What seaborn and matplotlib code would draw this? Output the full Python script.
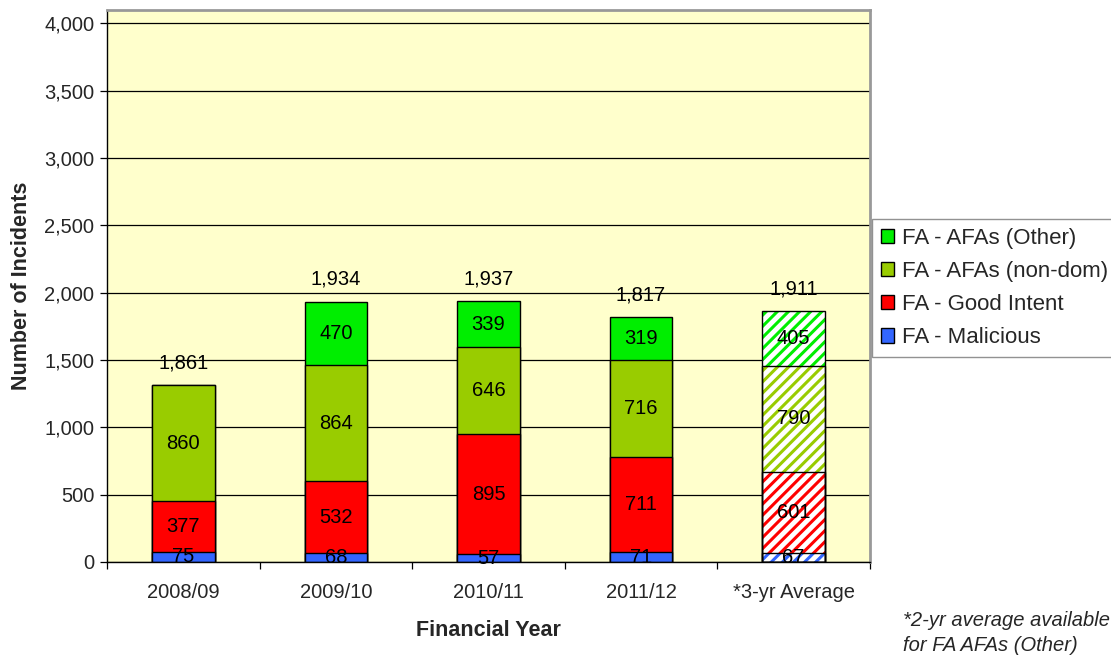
import numpy as np
import pandas as pd
import matplotlib
matplotlib.use("Agg")
import matplotlib.pyplot as plt
import seaborn as sns
from matplotlib.patches import Rectangle
from matplotlib.ticker import FuncFormatter, FixedLocator

years = ['2008/09', '2009/10', '2010/11', '2011/12', '*3-yr Average']
malicious = [75, 68, 57, 71, 67]
good_intent = [377, 532, 895, 711, 601]
afa_nondom = [860, 864, 646, 716, 790]
afa_other = [0, 470, 339, 319, 405]
totals = [1861, 1934, 1937, 1817, 1911]

series_names = ['FA - Malicious', 'FA - Good Intent', 'FA - AFAs (non-dom)', 'FA - AFAs (Other)']
series_colors = ['#3366FF', '#FF0000', '#99CC00', '#00EE00']

LABEL_FONT_SIZE = 14.5
TITLE_FONT_SIZE = 15.5

sns.set_style("white")
plt.rcParams['font.family'] = ['Liberation Sans', 'DejaVu Sans']
plt.rcParams['hatch.linewidth'] = 2.2

df = pd.DataFrame({'year': years, 'm': malicious, 'g': good_intent, 'n': afa_nondom, 'o': afa_other})
cols = ['m', 'g', 'n', 'o']
cum = df[cols].cumsum(axis=1)

fig = plt.figure(figsize=(11.11, 6.57), dpi=100)
ax = fig.add_axes([0.0963, 0.1446, 0.6867, 0.8402])
ax.set_facecolor('#FFFFCC')

ax.set_ylim(0, 4100)
ax.yaxis.set_major_locator(FixedLocator(np.arange(0, 4001, 500)))
ax.grid(axis='y', color='black', linewidth=0.9)
ax.set_axisbelow(True)

# stacked bars: draw cumulative totals from top series down
for i in range(len(cols) - 1, -1, -1):
    col = cols[i]
    n_before = len(ax.patches)
    sns.barplot(x=df['year'], y=cum[col], color=series_colors[i], width=0.41,
                edgecolor='black', linewidth=1.0, saturation=1, ax=ax)
    new_patches = ax.patches[n_before:]
    avg = new_patches[-1]
    avg.set_facecolor('white')
    avg.set_hatch('///')
    avg.set_edgecolor(series_colors[i])
    avg.set_linewidth(0)
    if df[col].iloc[-1] > 0:
        ax.add_patch(Rectangle((avg.get_x(), avg.get_y()), avg.get_width(), avg.get_height(),
                               fill=False, edgecolor='black', linewidth=1.0, zorder=avg.get_zorder() + 0.1))

# segment labels
for i, col in enumerate(cols):
    base = cum[col] - df[col]
    for j in range(len(years)):
        v = df[col].iloc[j]
        if v > 0:
            ax.text(j, base.iloc[j] + v / 2, f'{v:,}', ha='center', va='center',
                    fontsize=LABEL_FONT_SIZE, color='black', zorder=5)

# total labels above bars
tops = cum[cols[-1]]
for j in range(len(years)):
    ax.text(j, tops.iloc[j] + 165, f'{totals[j]:,}', ha='center', va='center',
            fontsize=LABEL_FONT_SIZE, color='black', zorder=5)

ax.set_xlim(-0.5, len(years) - 0.5)
ax.yaxis.set_major_formatter(FuncFormatter(lambda v, p: f'{int(v):,}'))
ax.tick_params(axis='y', which='major', length=5, width=0.9, color='black',
               labelsize=LABEL_FONT_SIZE, direction='out', left=True, pad=4)
ax.tick_params(axis='x', which='major', length=0, labelsize=LABEL_FONT_SIZE, pad=15)
ax.set_xticks(np.arange(-0.5, len(years)), minor=True)
ax.tick_params(axis='x', which='minor', length=5, width=0.9, color='black', direction='out', bottom=True)

ax.set_xlabel('Financial Year', fontsize=TITLE_FONT_SIZE, fontweight='bold', labelpad=13)
ax.set_ylabel('Number of Incidents', fontsize=TITLE_FONT_SIZE, fontweight='bold', labelpad=9)

for side in ['left', 'bottom']:
    ax.spines[side].set_color('black')
    ax.spines[side].set_linewidth(1.0)
for side in ['top', 'right']:
    ax.spines[side].set_color('#999999')
    ax.spines[side].set_linewidth(2.0)

# legend
handles = [Rectangle((0, 0), 1, 1, facecolor=series_colors[i], edgecolor='black', linewidth=1.0)
           for i in range(len(cols) - 1, -1, -1)]
labels = [series_names[i] for i in range(len(cols) - 1, -1, -1)]
leg = fig.legend(handles, labels, loc='upper left', bbox_to_anchor=(0.785, 0.667),
                 fontsize=16, frameon=True, fancybox=False,
                 handlelength=0.6, handleheight=0.6, handletextpad=0.35,
                 labelspacing=0.55, borderpad=0.4, borderaxespad=0)
leg.get_frame().set_edgecolor('#777777')
leg.get_frame().set_linewidth(1.0)

fig.text(0.813, 0.0365, '*2-yr average available\nfor FA AFAs (Other)', ha='left', va='center',
         fontsize=LABEL_FONT_SIZE, style='italic', linespacing=1.4)

fig.savefig('out.png', dpi=100)
